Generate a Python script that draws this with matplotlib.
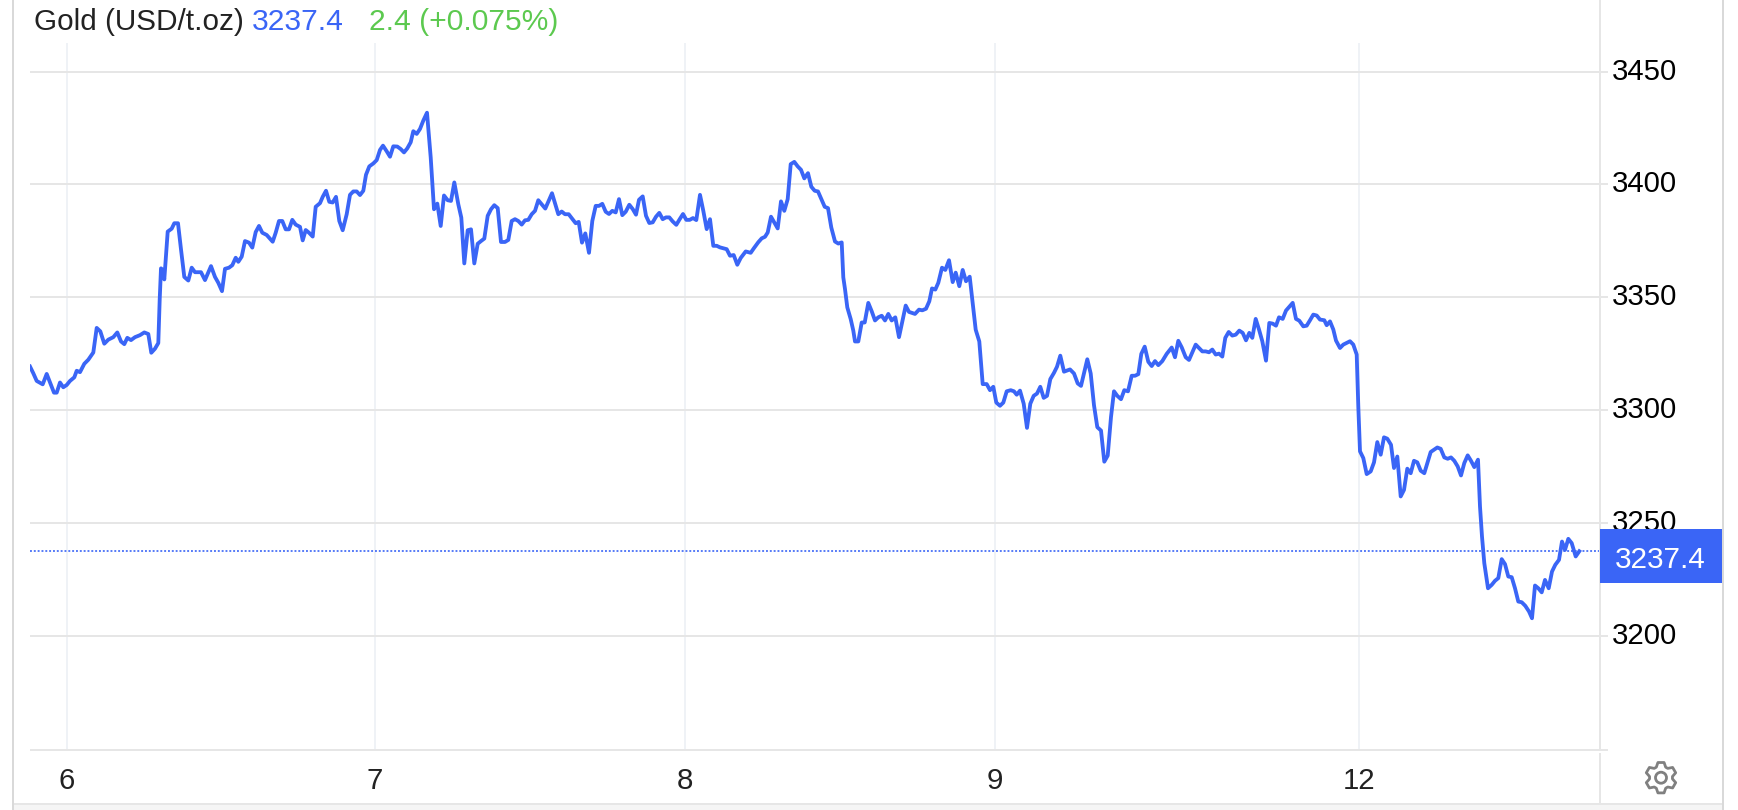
import matplotlib
matplotlib.use("Agg")
import matplotlib.pyplot as plt
import numpy as np
from matplotlib.lines import Line2D
from matplotlib.patches import Circle, PathPatch, Rectangle
from matplotlib.path import Path
from matplotlib.transforms import IdentityTransform

W, H = 1738, 810
BLUE = "#3a65f6"
GREEN = "#5cc94f"
GRID_H = "#e6e6e6"
GRID_V = "#eff2f6"
BORDER = "#d9d9d9"

plt.rcParams["font.family"] = ["Liberation Sans", "DejaVu Sans"]

# x is the chart's own bar position (the time axis skips the closed hours)
bar_pos = [
    30, 33.3, 36.7, 42.7, 46.7, 51.7, 54, 56.7, 60, 63.3, 66.7, 70, 74.3, 76.7, 80, 84.3, 88.3, 93.3, 96.7, 100.3,
    104.3, 108.3, 113.3, 117.3, 121, 124.3, 127.3, 131, 135, 140, 144.3, 148.3, 151.3, 155, 158.3, 159.7, 161, 162.3, 164.3, 167.7,
    171.7, 174.3, 178, 181, 184.3, 188.3, 191.7, 195, 201, 205, 211, 215, 218.3, 222, 225, 229, 232.3, 235.7, 238.3, 241.7,
    245, 249, 252.3, 255.7, 259, 262.3, 266.7, 272.7, 275.7, 279, 282.3, 285.7, 289, 292.3, 295.7, 300, 302.7, 305.7, 309, 312.7,
    315.7, 320, 322.7, 326, 329.3, 332.7, 336, 339.3, 342.7, 346.7, 350, 353.3, 356.7, 360, 363.3, 366, 369.3, 373.3, 376.7, 380,
    383, 386.7, 390, 393.3, 397.3, 400.7, 404, 407.3, 410.7, 413.3, 416.7, 420, 423.3, 427, 430.7, 434, 437.3, 440.7, 444, 447.7,
    451, 454.3, 458.3, 461.3, 464.3, 467.7, 471, 474.3, 477.7, 481, 484.3, 487.7, 491, 494.3, 497.7, 501, 505, 508.3, 511.7, 515,
    518.3, 521.7, 525, 528.3, 531.7, 535, 538.3, 541.7, 545.3, 548.7, 552, 555.3, 558.3, 561.7, 565, 568.7, 572, 575.7, 578.7, 582,
    585.3, 589, 592.3, 595.7, 599, 602.3, 605.7, 609, 612.3, 615.7, 619, 622.3, 625.7, 629.3, 632.7, 636, 639, 642.7, 646, 649.3,
    652.7, 656, 659.3, 662.7, 666, 669.3, 672.7, 676.3, 679.7, 683, 686.3, 689.7, 693, 696.3, 700, 703.3, 706.7, 710, 713.3, 716.7,
    720, 726.7, 730, 733.7, 737.3, 740.7, 745.7, 750.7, 754, 758.3, 761.7, 765, 767.7, 771, 777.7, 781, 784.3, 787.7, 790.7, 794.3,
    797.7, 801, 804.3, 808, 811.3, 814.7, 818, 821.3, 824.7, 828, 831.3, 835, 838.3, 841.7, 843.3, 845, 847.3, 850.7, 853.3, 855,
    858.3, 861.7, 864.7, 868.3, 871.7, 875, 878.3, 881.7, 885, 888.3, 891.7, 895.3, 899, 902.3, 905.7, 909, 915, 919, 922.3, 926,
    929.3, 932, 935.3, 938.3, 942, 945.3, 949, 952.7, 955.7, 959.3, 962.7, 966, 969.7, 972.7, 975.7, 979.3, 982.7, 986.7, 990, 993.3,
    996.3, 1000, 1003.3, 1006.7, 1010.7, 1014, 1016.7, 1020, 1023.7, 1027, 1030.3, 1033.7, 1037, 1040.3, 1043.7, 1047, 1050.3, 1054, 1057, 1060.3,
    1064, 1070, 1074, 1077.7, 1081, 1087.3, 1090.7, 1094, 1097.3, 1101, 1104.3, 1107.7, 1111, 1114, 1117.3, 1121, 1124.3, 1128, 1131.7, 1135,
    1138.3, 1141.3, 1144.7, 1148.3, 1151.7, 1155, 1158.3, 1162.3, 1166.7, 1171.7, 1175, 1178.3, 1181.7, 1185.7, 1189, 1195.7, 1199, 1202.3, 1205.7, 1209,
    1212.3, 1215.7, 1219, 1222.3, 1225.3, 1228.7, 1232.3, 1235.7, 1239.3, 1242.7, 1246, 1249.3, 1252.3, 1255.7, 1259, 1262.3, 1266, 1269.3, 1272.7, 1276,
    1279, 1282.7, 1286, 1292.7, 1296, 1299.3, 1303.3, 1306.7, 1310, 1313.3, 1316.7, 1320, 1324.3, 1326.7, 1330, 1333.3, 1336, 1340, 1343.3, 1350,
    1353.3, 1356.7, 1358.3, 1360, 1363.3, 1366.7, 1370.7, 1374, 1377.3, 1380.7, 1384, 1387.3, 1391, 1394, 1397.3, 1400.7, 1404, 1407.3, 1410.7, 1414,
    1417.3, 1420.7, 1424.3, 1430.7, 1434, 1437.3, 1440.7, 1444.3, 1447.7, 1451, 1454.3, 1457.7, 1461, 1464.3, 1467.7, 1471, 1474.3, 1478, 1480, 1482,
    1484.3, 1488, 1491.7, 1495, 1498.3, 1501.7, 1505, 1508.3, 1511.7, 1515, 1518.3, 1521.7, 1525.3, 1529, 1532, 1535, 1538.3, 1541.7, 1545, 1548.7,
    1552, 1555.3, 1559, 1562, 1565, 1568.3, 1571.7, 1575.7, 1579.3,
]
price = [
    3319.3, 3316.3, 3312.9, 3311.4, 3316, 3310.4, 3307.7, 3307.7, 3312.2, 3310.1, 3311.1, 3312.9, 3314.5, 3317.4, 3316.8, 3320.5, 3322.3, 3325.5, 3336.4, 3334.9,
    3329.4, 3331.2, 3332.3, 3334.4, 3330.4, 3329.2, 3332, 3331, 3332.3, 3333.2, 3334.4, 3333.7, 3325.4, 3327.2, 3329.7, 3349, 3362.8, 3362.3, 3357.9, 3379.1,
    3380.4, 3382.8, 3382.8, 3371.2, 3359, 3357.4, 3363.1, 3361.1, 3361.1, 3357.6, 3363.8, 3359, 3356.4, 3352.7, 3362.6, 3363.1, 3364.2, 3367.5, 3365.7, 3368,
    3374.9, 3374.2, 3372, 3378.9, 3381.6, 3378.6, 3377.6, 3374.6, 3378.6, 3383.8, 3383.8, 3380.1, 3380.1, 3384.3, 3382.2, 3381.2, 3375.2, 3379.8, 3378.6, 3376.9,
    3390.1, 3391.7, 3394.5, 3397.2, 3392.3, 3392, 3394.5, 3383.8, 3379.7, 3386.8, 3395.4, 3396.9, 3396.9, 3395.3, 3397.2, 3404.3, 3408, 3409.3, 3410.8, 3415.3,
    3417.2, 3414.7, 3412.3, 3416.9, 3416.8, 3415.7, 3414.2, 3416, 3418.7, 3423.6, 3422.4, 3424.6, 3428.3, 3431.8, 3412, 3389, 3391.5, 3381.6, 3395.1, 3393,
    3392.7, 3400.9, 3391.2, 3385.3, 3365, 3379.7, 3380.1, 3365, 3373.7, 3374.9, 3376, 3386.1, 3389, 3390.8, 3389.5, 3374.5, 3374.5, 3375.4, 3383.8, 3384.6,
    3383.8, 3382.2, 3384.1, 3384.3, 3386.8, 3388.3, 3393, 3391.2, 3389.3, 3392.7, 3396.1, 3391.2, 3386.8, 3388, 3386.8, 3386.8, 3384.9, 3382.8, 3383.4, 3374.2,
    3378.3, 3369.7, 3383.8, 3390.5, 3390.5, 3391.4, 3387.9, 3386.9, 3388.3, 3387.6, 3393.5, 3386.4, 3387.9, 3391, 3389.1, 3386.6, 3393.2, 3394.7, 3386.1, 3382.9,
    3383.2, 3385.7, 3387.4, 3384.6, 3385.4, 3385.4, 3383.6, 3382.1, 3384.6, 3386.9, 3384.3, 3384.3, 3385.1, 3384.2, 3395.4, 3388.3, 3380.2, 3384.6, 3372.8, 3372.8,
    3372.1, 3371.3, 3368.4, 3368.7, 3364.4, 3367.4, 3370.3, 3369.7, 3371.8, 3374.4, 3376.1, 3376.8, 3378.7, 3385.7, 3380.5, 3392.5, 3388.3, 3393.5, 3409, 3410,
    3408, 3406.5, 3402.7, 3405, 3399, 3397.2, 3396.9, 3393.5, 3390.1, 3389.5, 3380.9, 3374.7, 3373.8, 3374.3, 3358.8, 3353.6, 3345.5, 3340.3, 3335.2, 3330.4,
    3330.4, 3338.8, 3338.8, 3347.5, 3343.8, 3339.7, 3341.1, 3341.8, 3339.7, 3342.6, 3339.7, 3341.1, 3332.3, 3339.3, 3346.3, 3343.5, 3342.6, 3344.5, 3344.2, 3344.9,
    3348.2, 3353.9, 3353.4, 3356.4, 3363.1, 3362.1, 3366.4, 3356.7, 3360.9, 3354.9, 3362.1, 3357.1, 3359.1, 3347.5, 3335.6, 3330.4, 3311.5, 3311.5, 3308.8, 3310.3,
    3303.3, 3301.9, 3303.3, 3308.3, 3308.8, 3308.3, 3306.8, 3308.6, 3302.8, 3292.1, 3302.8, 3306.3, 3307.3, 3310.3, 3305.4, 3306.3, 3313.7, 3316.5, 3319.2, 3324.1,
    3317, 3318, 3316.2, 3311.8, 3310.7, 3322.5, 3316.2, 3302.1, 3292.4, 3290.9, 3277.1, 3279.8, 3296.9, 3308.3, 3306.3, 3304.8, 3308.8, 3308.3, 3315.2, 3315.2,
    3315.9, 3324.9, 3328.1, 3321.4, 3319.5, 3321.7, 3319.9, 3321.7, 3324.9, 3327.7, 3323.4, 3330.7, 3327.8, 3323.4, 3322.2, 3329, 3327.5, 3326, 3326, 3325.6,
    3326.8, 3324.6, 3325, 3323.7, 3332, 3334.6, 3333, 3333.4, 3335.2, 3334.2, 3330.9, 3334.2, 3332, 3340.4, 3335.7, 3330.5, 3321.9, 3338.6, 3338.3, 3337.4,
    3341.1, 3340.4, 3344.1, 3347.5, 3340.4, 3339.6, 3337.1, 3337.4, 3339.8, 3342.3, 3341.9, 3340.1, 3339.8, 3337.6, 3339.3, 3335.7, 3330.8, 3327.5, 3329, 3330.5,
    3329, 3324.6, 3301.6, 3281.7, 3278.7, 3271.6, 3272.8, 3276.8, 3285.8, 3280.2, 3287.9, 3287.3, 3284.6, 3274.3, 3279.4, 3261.7, 3264.6, 3274, 3272, 3277.5,
    3276.8, 3273.1, 3272, 3281.4, 3282.4, 3283.4, 3282.8, 3279, 3278.4, 3279, 3277.5, 3275, 3271, 3276.5, 3279.9, 3277.5, 3274.7, 3278, 3257.2, 3243.9,
    3232.1, 3221, 3222.5, 3224.3, 3225.5, 3233.9, 3231.7, 3226.2, 3225.9, 3221, 3215.1, 3214.8, 3213.2, 3210.7, 3207.7, 3222.2, 3221, 3219.2, 3224.7, 3221,
    3228.4, 3231.4, 3233.6, 3241.7, 3238, 3242.9, 3241, 3235.1, 3237.4,
]
last_price = 3237.4
y_ticks = [3200, 3250, 3300, 3350, 3400, 3450]
x_ticks = [66.5, 375, 685, 995, 1359]
x_labels = ["6", "7", "8", "9", "12"]


def fx(px):
    return px / W


def fy(py):
    return 1 - py / H


def fig_line(x0, y0, x1, y1, color, lw_px):
    fig.add_artist(Line2D([fx(x0), fx(x1)], [fy(y0), fy(y1)], color=color,
                          lw=lw_px * 0.72, solid_capstyle="butt", zorder=3))


fig = plt.figure(figsize=(W / 100, H / 100), dpi=100, facecolor="white")

# frame around the widget
fig.add_artist(Rectangle((fx(14), 0), fx(1722 - 14), fy(803), transform=fig.transFigure,
                         facecolor="#f5f5f5", edgecolor="none", zorder=2))
fig_line(14, 803.5, 1722, 803.5, GRID_H, 2)
fig_line(13, 0, 13, H, BORDER, 2)
fig_line(1723, 0, 1723, H, BORDER, 2)
fig_line(1599.5, 0, 1599.5, 750, GRID_H, 2)
fig_line(1599.5, 753, 1599.5, 803, GRID_H, 2)

ax = fig.add_axes([fx(30), fy(750), fx(1600 - 30), fy(43) - fy(750)], facecolor="none")
ax.set_xlim(30, 1600)
ax.set_ylim(3149.3, 3462.7)
for s in ax.spines.values():
    s.set_visible(False)

ax.set_xticks(x_ticks, x_labels)
ax.set_yticks(y_ticks, [str(v) for v in y_ticks])
ax.yaxis.tick_right()
ax.tick_params(axis="y", length=5.8, width=1.4, color=GRID_H, labelsize=21.2, labelcolor="black", pad=3)
ax.tick_params(axis="x", length=0, labelsize=21.2, labelcolor="#222222", pad=12)
for lab in ax.get_yticklabels():
    lab.set_verticalalignment("center")
ax.grid(axis="y", color=GRID_H, lw=1.4)
ax.grid(axis="x", color=GRID_V, lw=1.4)
ax.set_axisbelow(True)

ax.axhline(last_price, color=BLUE, lw=1.2, ls=(0, (1.15, 1.15)), zorder=2)
ax.plot(bar_pos, price, color=BLUE, lw=2.75, solid_joinstyle="round", zorder=3)

fig_line(30, 749.5, 1608, 749.5, GRID_H, 2)

# last price flag, covers the lower part of the 3250 label
fig.add_artist(Rectangle((fx(1600), fy(582.7)), fx(122), fy(529) - fy(582.7), transform=fig.transFigure,
                         facecolor=BLUE, edgecolor="none", zorder=5))
fig.text(fx(1660.5), fy(568), f"{last_price}", color="white", fontsize=21.3, ha="center", va="baseline", zorder=6)

# header
fig.text(fx(34), fy(30), "Gold (USD/t.oz)", color="#222222", fontsize=21.4, va="baseline")
fig.text(fx(252), fy(30), "3237.4", color=BLUE, fontsize=21.6, va="baseline")
fig.text(fx(369), fy(30), "2.4 (+0.075%)", color=GREEN, fontsize=21.6, va="baseline")

# settings cog, drawn in display pixels
cx, cy = 1661, H - 777.7
verts = []
for k in range(6):
    a = np.pi / 2 + k * np.pi / 3
    for da, r in [(-0.42, 11.5), (-0.2, 15.5), (0.2, 15.5), (0.42, 11.5)]:
        verts.append((cx + r * np.cos(a + da), cy + r * np.sin(a + da)))
verts.append(verts[0])
codes = [Path.MOVETO] + [Path.LINETO] * (len(verts) - 2) + [Path.CLOSEPOLY]
fig.add_artist(PathPatch(Path(verts, codes), transform=IdentityTransform(), facecolor="none",
                         edgecolor="#808080", lw=2.0, joinstyle="round", zorder=4))
fig.add_artist(Circle((cx, cy), 5.5, transform=IdentityTransform(), facecolor="none",
                      edgecolor="#808080", lw=2.0, zorder=4))

fig.savefig("out.png", dpi=100, facecolor="white")
